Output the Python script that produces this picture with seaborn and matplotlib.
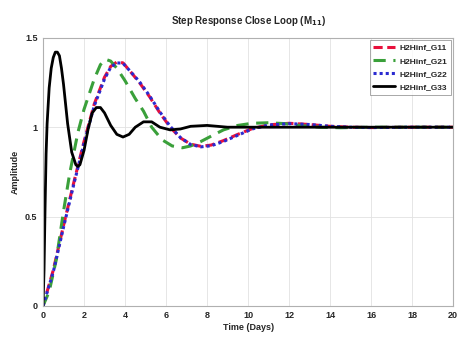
import numpy as np
import pandas as pd
import seaborn as sns
import matplotlib
matplotlib.use("Agg")
import matplotlib.pyplot as plt

# values
t_g11 = [0, 0.5, 1.0, 1.5, 2.0, 2.5, 3.0, 3.3, 3.6, 3.9, 4.2, 4.7, 5.2, 5.7, 6.2, 6.7,
         7.2, 7.7, 8.2, 8.8, 9.5, 10.2, 11, 12, 13, 14, 15, 16, 18, 20]
y_g11 = [0, 0.2, 0.45, 0.69, 0.92, 1.13, 1.28, 1.34, 1.365, 1.36, 1.32, 1.25, 1.17,
         1.08, 1.0, 0.94, 0.905, 0.893, 0.9, 0.925, 0.96, 0.992, 1.013, 1.022, 1.015,
         1.005, 1.0, 0.998, 1.0, 1.0]

t_g21 = [0, 0.3, 0.65, 1.0, 1.3, 1.7, 2.0, 2.5, 2.8, 3.05, 3.3, 3.6, 4.0, 4.5, 4.9,
         5.3, 5.8, 6.3, 6.8, 7.2, 7.7, 8.2, 8.8, 9.5, 10.2, 11, 11.8, 12.5, 13.5,
         14.5, 16, 18, 20]
y_g21 = [0, 0.08, 0.26, 0.53, 0.74, 0.97, 1.1, 1.27, 1.35, 1.38, 1.37, 1.33, 1.26,
         1.16, 1.09, 1.0, 0.93, 0.895, 0.885, 0.895, 0.92, 0.95, 0.985, 1.01, 1.022,
         1.025, 1.02, 1.01, 1.0, 0.997, 1.0, 1.0, 1.0]

t_g22 = [0, 0.5, 1.0, 1.5, 2.0, 2.5, 3.0, 3.3, 3.6, 3.9, 4.2, 4.7, 5.2, 5.7, 6.2, 6.7,
         7.2, 7.7, 8.2, 8.8, 9.5, 10.2, 11, 12, 13, 14, 15, 16, 18, 20]
y_g22 = [0, 0.19, 0.44, 0.68, 0.91, 1.12, 1.27, 1.335, 1.36, 1.358, 1.32, 1.255,
         1.175, 1.085, 1.005, 0.942, 0.903, 0.89, 0.896, 0.92, 0.955, 0.99, 1.012,
         1.02, 1.015, 1.005, 1.0, 0.998, 1.0, 1.0]

t_g33 = [0, 0.05, 0.1, 0.15, 0.2, 0.3, 0.4, 0.5, 0.6, 0.7, 0.8, 0.9, 1.0, 1.2, 1.4,
         1.6, 1.7, 1.8, 2.0, 2.2, 2.4, 2.6, 2.8, 3.0, 3.3, 3.6, 3.9, 4.2, 4.5, 4.9,
         5.3, 5.7, 6.2, 6.7, 7.2, 8, 9, 10, 12, 14, 16, 18, 20]
y_g33 = [0, 0.2, 0.55, 0.85, 1.02, 1.22, 1.33, 1.39, 1.42, 1.42, 1.40, 1.33, 1.24,
         1.02, 0.86, 0.79, 0.78, 0.79, 0.87, 0.99, 1.08, 1.11, 1.11, 1.08, 1.01, 0.96,
         0.945, 0.96, 1.0, 1.03, 1.03, 1.0, 0.985, 0.99, 1.005, 1.01, 1.0, 1.0, 1.0,
         1.0, 1.0, 1.0, 1.0]

x_ticks = [0, 2, 4, 6, 8, 10, 12, 14, 16, 18, 20]
y_ticks = [0, 0.5, 1, 1.5]
y_tick_labels = ["0", "0.5", "1", "1.5"]

sns.set_style("whitegrid")
plt.rcParams["font.family"] = ["Liberation Sans", "DejaVu Sans"]
plt.rcParams["font.weight"] = "bold"

fig = plt.figure(figsize=(4.65, 3.38), dpi=100)
ax = fig.add_axes([0.0925, 0.095, 0.882, 0.793])

sns.lineplot(x=t_g11, y=y_g11, ax=ax, color="#e8103c", linestyle=(0, (3, 1.5)),
             linewidth=2.2, label="H2Hinf_G11", sort=False)
sns.lineplot(x=t_g21, y=y_g21, ax=ax, color="#3aa03a", linestyle=(0, (4, 2.5)),
             linewidth=2.2, label="H2Hinf_G21", sort=False)
sns.lineplot(x=t_g22, y=y_g22, ax=ax, color="#2a2ad0", linestyle=(0, (1, 1)),
             linewidth=2.2, label="H2Hinf_G22", sort=False)
sns.lineplot(x=t_g33, y=y_g33, ax=ax, color="black", linestyle="-",
             linewidth=2.0, label="H2Hinf_G33", sort=False)

ax.set_xlim(0, 20)
ax.set_ylim(0, 1.5)
ax.set_xticks(x_ticks)
ax.set_yticks(y_ticks)
ax.set_yticklabels(y_tick_labels)
ax.tick_params(labelsize=6.5, pad=4, length=0)
ax.grid(color="#e2e2e2", linewidth=0.6)
for s in ax.spines.values():
    s.set_color("#b0b0b0")
    s.set_linewidth(0.8)

ax.set_title("Step Response Close Loop (M$_{\\mathbf{11}}$)", fontsize=7, fontweight="bold", pad=10)
ax.set_xlabel("Time (Days)", fontsize=6.5, fontweight="bold", labelpad=2)
ax.set_ylabel("Amplitude", fontsize=6.5, fontweight="bold", labelpad=4)

leg = ax.legend(loc="upper right", fontsize=6, frameon=True, fancybox=False,
                handlelength=2.6, borderpad=0.4, labelspacing=0.65, handletextpad=0.6,
                borderaxespad=0.3)
leg.get_frame().set_edgecolor("#808080")
leg.get_frame().set_linewidth(0.6)

fig.savefig("out.png", dpi=100, facecolor="white")
